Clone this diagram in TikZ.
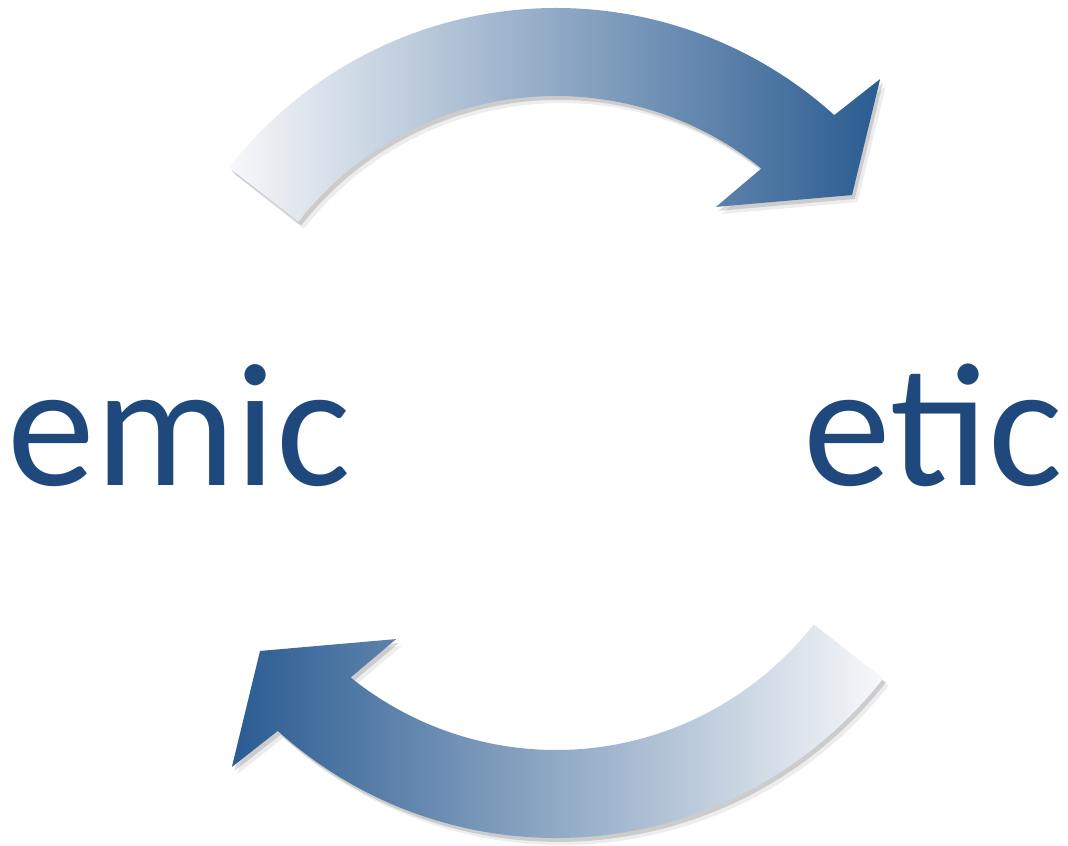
\documentclass[tikz,border=0pt]{standalone}
\usepackage{fontspec}
\setmainfont{Carlito}
\usetikzlibrary{shadows}

\definecolor{textblue}{HTML}{1F497D}
\definecolor{arrowdark}{HTML}{2A5B91}
\definecolor{arrowlight}{HTML}{F7F8FA}

% curved band with head, turned by #1 degrees round the centre
\newcommand{\bandpath}[1]{
    ({142+#1}:415) arc[start angle={142+#1}, end angle={47.9+#1}, radius=415]
    -- ({46.7+#1}:472.6) -- ({37.6+#1}:373.6) -- ({53.5+#1}:268.8)
    -- ({51.1+#1}:327) arc[start angle={51.1+#1}, end angle={142+#1}, radius=327]
    -- cycle
}

\begin{document}
\begin{tikzpicture}[x=0.01cm, y=0.01cm,
        band/.style={draw=none,
            drop shadow={shadow xshift=1.6pt, shadow yshift=-2pt,
                fill=black, opacity=.07},
            drop shadow={shadow xshift=0.8pt, shadow yshift=-1.1pt,
                fill=black, opacity=.14}},
        word/.style={inner sep=0pt, text=textblue,
            font=\fontsize{50}{60}\selectfont}]

    \useasboundingbox (0,0) rectangle (1068,845);

    \begin{scope}[shift={(556,422)}]
        % upper arrow, light to dark
        \path[band, left color=arrowlight, right color=arrowdark] \bandpath{0};
        % lower arrow, dark to light
        \path[band, left color=arrowdark, right color=arrowlight] \bandpath{180};
    \end{scope}

    \node[word, anchor=base west] (emic) at (7,360) {emic};
    \node[word, anchor=base east] (etic) at (1063,360) {etic};
\end{tikzpicture}
\end{document}
